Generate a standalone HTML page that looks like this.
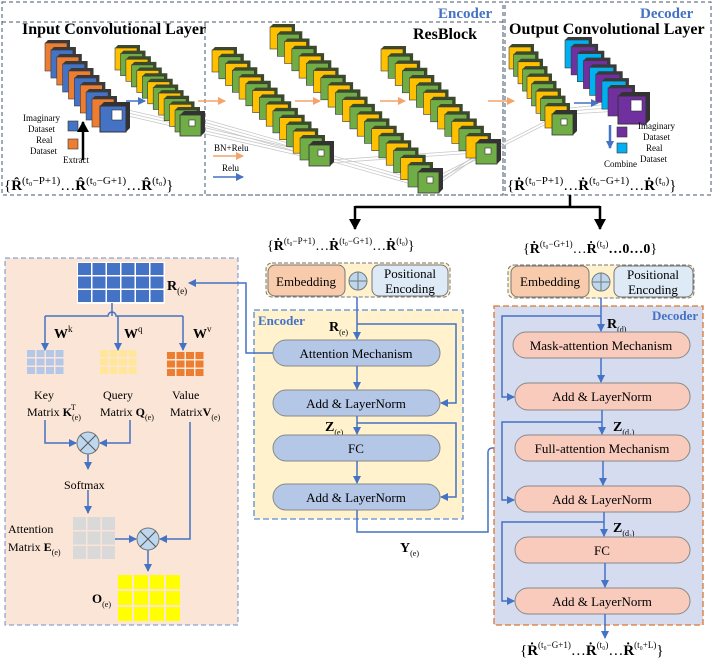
<!DOCTYPE html>
<html><head><meta charset="utf-8"><style>
html,body{margin:0;padding:0;background:#fff;}
svg{display:block;font-family:"Liberation Serif",serif;}
</style></head><body>
<svg width="713" height="668" viewBox="0 0 713 668" xmlns="http://www.w3.org/2000/svg" xmlns:xlink="http://www.w3.org/1999/xlink">
<defs>
<marker id="ab" markerWidth="8" markerHeight="8" refX="7" refY="4" orient="auto" markerUnits="userSpaceOnUse"><path d="M0,0 L8,4 L0,8 z" fill="#4472c4"/></marker>
<marker id="ak" markerWidth="12" markerHeight="12" refX="10" refY="6" orient="auto" markerUnits="userSpaceOnUse"><path d="M0,0 L11,6 L0,12 z" fill="#000"/></marker>
<marker id="ao" markerWidth="8" markerHeight="8" refX="7" refY="4" orient="auto" markerUnits="userSpaceOnUse"><path d="M0,0 L8,4 L0,8 z" fill="#f4a46a"/></marker>
<g id="cO"><path d="M0,0 l3,-3 h22 v28 l-3,3 z" fill="#3a3a3a"/><rect width="22" height="28" fill="#ed7d31" stroke="#3a3a3a" stroke-width="0.6"/></g>
<g id="cB"><path d="M0,0 l3,-3 h22 v28 l-3,3 z" fill="#3a3a3a"/><rect width="22" height="28" fill="#4472c4" stroke="#3a3a3a" stroke-width="0.6"/></g>
<g id="cY"><path d="M0,0 l3,-3 h22 v22 l-3,3 z" fill="#3a4a2a"/><rect width="22" height="22" fill="#ffc000" stroke="#3a3a3a" stroke-width="0.6"/></g>
<g id="cG"><path d="M0,0 l3,-3 h22 v22 l-3,3 z" fill="#3a4a2a"/><rect width="22" height="22" fill="#70ad47" stroke="#3a3a3a" stroke-width="0.6"/></g>
<g id="cC"><path d="M0,0 l3,-3 h24 v28 l-3,3 z" fill="#3a3a3a"/><rect width="24" height="28" fill="#00b0f0" stroke="#3a3a3a" stroke-width="0.6"/></g>
<g id="cP"><path d="M0,0 l3,-3 h24 v28 l-3,3 z" fill="#3a3a3a"/><rect width="24" height="28" fill="#7030a0" stroke="#3a3a3a" stroke-width="0.6"/></g>
<g id="fG"><path d="M0,0 l4,-4 h21 v21 l-4,4 z" fill="#333"/><rect width="21" height="21" fill="#70ad47" stroke="#333" stroke-width="0.8"/><rect x="9" y="5" width="6" height="6" fill="#fff" stroke="#333" stroke-width="0.6"/></g>
<pattern id="pR" x="78" y="263" width="14.5" height="13.5" patternUnits="userSpaceOnUse"><rect width="13" height="12" fill="#4472c4"/></pattern>
<pattern id="pK" x="27" y="350" width="9.5" height="8.5" patternUnits="userSpaceOnUse"><rect width="8" height="7" fill="#b4c7e7"/></pattern>
<pattern id="pQ" x="100" y="350" width="9.5" height="8.5" patternUnits="userSpaceOnUse"><rect width="8" height="7" fill="#ffe699"/></pattern>
<pattern id="pV" x="167" y="352" width="9.5" height="8.5" patternUnits="userSpaceOnUse"><rect width="8" height="7" fill="#ed7d31"/></pattern>
<pattern id="pE" x="73" y="517" width="14.5" height="14.5" patternUnits="userSpaceOnUse"><rect width="13" height="13" fill="#d9d9d9"/></pattern>
<pattern id="pO" x="118" y="575" width="16" height="16" patternUnits="userSpaceOnUse"><rect width="14" height="14" fill="#ffff00"/></pattern>
</defs>

<!-- TOP SECTION boxes -->
<rect x="2" y="2" width="501" height="193" fill="none" stroke="#44546a" stroke-dasharray="4,3"/>
<rect x="2" y="22" width="203" height="173" fill="none" stroke="#44546a" stroke-dasharray="4,3"/>
<rect x="205" y="22" width="298" height="173" fill="none" stroke="#44546a" stroke-dasharray="4,3"/>
<rect x="505" y="2" width="206" height="193" fill="none" stroke="#44546a" stroke-dasharray="4,3"/>
<text x="438" y="18" font-size="15" font-weight="bold" fill="#4472c4">Encoder</text>
<text x="640" y="18" font-size="15" font-weight="bold" fill="#4472c4">Decoder</text>
<text x="22" y="34" font-size="16" font-weight="bold">Input Convolutional Layer</text>
<text x="413" y="39" font-size="16" font-weight="bold">ResBlock</text>
<text x="509" y="34" font-size="16" font-weight="bold">Output Convolutional Layer</text>

<g stroke="#c8c8c8" stroke-width="0.8" fill="none">
<path d="M128,110 L310,152 M128,113 L310,155 M128,116 L310,158"/>
<path d="M200,118 L418,180 M200,121 L418,183 M200,124 L418,186"/>
<path d="M330,160 L476,150 M330,163 L476,153"/>
<path d="M440,180 L476,155 M440,183 L476,158"/>
<path d="M570,108 L620,103 M570,111 L620,107 M570,114 L620,111"/>
<path d="M440,175 L552,118 M440,178 L552,121"/>
</g>

<!-- stack 1 input -->
<use href="#cO" x="45" y="43"/><use href="#cB" x="50.9" y="50"/><use href="#cO" x="56.8" y="57"/><use href="#cB" x="62.6" y="64"/><use href="#cO" x="68.5" y="71"/><use href="#cB" x="74.4" y="78"/><use href="#cO" x="80.3" y="85"/><use href="#cB" x="86.1" y="92"/><use href="#cO" x="92" y="99"/>
<path d="M100,106 l4,-4 h26 v26 l-4,4 z" fill="#333"/><rect x="100" y="106" width="26" height="26" fill="#4472c4" stroke="#333"/><rect x="112" y="110" width="10" height="10" fill="#fff" stroke="#333" stroke-width="0.6"/>
<!-- stack 2 -->
<use href="#cY" x="115" y="48"/><use href="#cG" x="120.5" y="53.6"/><use href="#cY" x="125.9" y="59.3"/><use href="#cG" x="131.4" y="64.9"/><use href="#cY" x="136.8" y="70.5"/><use href="#cG" x="142.3" y="76.2"/><use href="#cY" x="147.7" y="81.8"/><use href="#cG" x="153.2" y="87.5"/><use href="#cY" x="158.6" y="93.1"/><use href="#cG" x="164.1" y="98.7"/><use href="#cY" x="169.5" y="104.4"/><use href="#cG" x="175" y="110"/>
<use href="#fG" x="180" y="115"/>
<!-- stack A -->
<use href="#cY" x="212" y="50"/><use href="#cG" x="218.8" y="56.8"/><use href="#cY" x="225.5" y="63.5"/><use href="#cG" x="232.3" y="70.3"/><use href="#cY" x="239.1" y="77.1"/><use href="#cG" x="245.8" y="83.8"/><use href="#cY" x="252.6" y="90.6"/><use href="#cG" x="259.4" y="97.4"/><use href="#cY" x="266.2" y="104.2"/><use href="#cG" x="272.9" y="110.9"/><use href="#cY" x="279.7" y="117.7"/><use href="#cG" x="286.5" y="124.5"/><use href="#cY" x="293.2" y="131.2"/><use href="#cG" x="300" y="138"/>
<use href="#fG" x="309" y="145"/>
<!-- stack B -->
<use href="#cY" x="270" y="27"/><use href="#cG" x="277.3" y="34.3"/><use href="#cY" x="284.5" y="41.5"/><use href="#cG" x="291.8" y="48.8"/><use href="#cY" x="299.1" y="56.1"/><use href="#cG" x="306.3" y="63.3"/><use href="#cY" x="313.6" y="70.6"/><use href="#cG" x="320.8" y="77.8"/><use href="#cY" x="328.1" y="85.1"/><use href="#cG" x="335.4" y="92.4"/><use href="#cY" x="342.6" y="99.6"/><use href="#cG" x="349.9" y="106.9"/><use href="#cY" x="357.2" y="114.2"/><use href="#cG" x="364.4" y="121.4"/><use href="#cY" x="371.7" y="128.7"/><use href="#cG" x="378.9" y="135.9"/><use href="#cY" x="386.2" y="143.2"/><use href="#cG" x="393.5" y="150.5"/><use href="#cY" x="400.7" y="157.7"/><use href="#cG" x="408" y="165"/>
<use href="#fG" x="418" y="172"/>
<!-- stack C -->
<use href="#cY" x="381" y="49"/><use href="#cG" x="388.1" y="56.3"/><use href="#cY" x="395.2" y="63.5"/><use href="#cG" x="402.3" y="70.8"/><use href="#cY" x="409.3" y="78"/><use href="#cG" x="416.4" y="85.3"/><use href="#cY" x="423.5" y="92.5"/><use href="#cG" x="430.6" y="99.8"/><use href="#cY" x="437.7" y="107"/><use href="#cG" x="444.8" y="114.3"/><use href="#cY" x="451.8" y="121.5"/><use href="#cG" x="458.9" y="128.8"/><use href="#cY" x="466" y="136"/>
<use href="#fG" x="476" y="143"/>
<!-- output stack -->
<use href="#cY" x="509" y="47"/><use href="#cG" x="513.5" y="54.4"/><use href="#cY" x="518" y="61.8"/><use href="#cG" x="522.5" y="69.1"/><use href="#cY" x="527" y="76.5"/><use href="#cG" x="531.5" y="83.9"/><use href="#cY" x="536" y="91.3"/><use href="#cG" x="540.5" y="98.6"/><use href="#cY" x="545" y="106"/>
<use href="#fG" x="552" y="114"/>
<use href="#cC" x="565" y="40"/><use href="#cP" x="571.1" y="46.9"/><use href="#cC" x="577.3" y="53.7"/><use href="#cP" x="583.4" y="60.6"/><use href="#cC" x="589.6" y="67.4"/><use href="#cP" x="595.7" y="74.3"/><use href="#cC" x="601.9" y="81.1"/><use href="#cP" x="608" y="88"/>
<path d="M618,96 l4,-4 h28 v28 l-4,4 z" fill="#333"/><rect x="618" y="96" width="28" height="28" fill="#7030a0" stroke="#333"/><rect x="631" y="100" width="11" height="11" fill="#fff" stroke="#333" stroke-width="0.6"/>

<!-- arrows top -->
<line x1="126" y1="101" x2="145" y2="101" stroke="#4472c4" stroke-width="1.5" marker-end="url(#ab)"/>
<line x1="198" y1="101" x2="225" y2="101" stroke="#f4a46a" stroke-width="1.5" marker-end="url(#ao)"/>
<line x1="295" y1="101" x2="320" y2="101" stroke="#f4a46a" stroke-width="1.5" marker-end="url(#ao)"/>
<line x1="380" y1="101" x2="405" y2="101" stroke="#f4a46a" stroke-width="1.5" marker-end="url(#ao)"/>
<line x1="488" y1="101" x2="514" y2="101" stroke="#f4a46a" stroke-width="1.5" marker-end="url(#ao)"/>
<line x1="574" y1="103" x2="598" y2="103" stroke="#4472c4" stroke-width="1.5" marker-end="url(#ab)"/>
<text x="214" y="151" font-size="9">BN+Relu</text>
<line x1="213" y1="156" x2="243" y2="156" stroke="#f4a46a" stroke-width="1.5" marker-end="url(#ao)"/>
<text x="222" y="171" font-size="9">Relu</text>
<line x1="213" y1="177" x2="243" y2="177" stroke="#4472c4" stroke-width="1.5" marker-end="url(#ab)"/>

<!-- input legend -->
<text x="23" y="121" font-size="9">Imaginary</text>
<text x="28" y="132" font-size="9">Dataset</text>
<text x="36" y="143" font-size="9">Real</text>
<text x="30" y="154" font-size="9">Dataset</text>
<rect x="68" y="121" width="10" height="10" fill="#4472c4" stroke="#333" stroke-width="0.6"/>
<rect x="68" y="139" width="10" height="10" fill="#ed7d31" stroke="#333" stroke-width="0.6"/>
<line x1="83" y1="160" x2="83" y2="122" stroke="#000" stroke-width="2.5" marker-end="url(#ak)"/>
<text x="63" y="163" font-size="9">Extract</text>
<text x="4" y="190" font-size="15">{<tspan font-weight="bold">R̂</tspan><tspan font-size="11" dy="-6">(t₀−P+1)</tspan><tspan dy="6">…</tspan><tspan font-weight="bold">R̂</tspan><tspan font-size="11" dy="-6">(t₀−G+1)</tspan><tspan dy="6">…</tspan><tspan font-weight="bold">R̂</tspan><tspan font-size="11" dy="-6">(t₀)</tspan><tspan dy="6">}</tspan></text>

<!-- output legend -->
<line x1="610" y1="125" x2="610" y2="148" stroke="#4472c4" stroke-width="2.5" marker-end="url(#ab)"/>
<rect x="617" y="127" width="10" height="10" fill="#7030a0" stroke="#333" stroke-width="0.6"/>
<rect x="617" y="143" width="10" height="10" fill="#00b0f0" stroke="#333" stroke-width="0.6"/>
<text x="638" y="129" font-size="9">Imaginary</text>
<text x="643" y="140" font-size="9">Dataset</text>
<text x="646" y="151" font-size="9">Real</text>
<text x="640" y="162" font-size="9">Dataset</text>
<text x="604" y="167" font-size="9">Combine</text>
<text x="507" y="190" font-size="15">{<tspan font-weight="bold">Ṙ</tspan><tspan font-size="11" dy="-6">(t₀−P+1)</tspan><tspan dy="6">…</tspan><tspan font-weight="bold">Ṙ</tspan><tspan font-size="11" dy="-6">(t₀−G+1)</tspan><tspan dy="6">…</tspan><tspan font-weight="bold">Ṙ</tspan><tspan font-size="11" dy="-6">(t₀)</tspan><tspan dy="6">}</tspan></text>

<!-- black arrows -->
<path d="M570,195 V207 M355,207 H600" stroke="#000" stroke-width="2.5" fill="none"/>
<line x1="355" y1="206" x2="355" y2="229" stroke="#000" stroke-width="2.5" marker-end="url(#ak)"/>
<line x1="600" y1="206" x2="600" y2="229" stroke="#000" stroke-width="2.5" marker-end="url(#ak)"/>

<!-- LEFT PANEL -->
<rect x="5" y="258" width="233" height="367" fill="#fbe5d6" stroke="#6f8fcf" stroke-dasharray="5,3"/>
<rect x="77" y="262" width="88" height="42" fill="#fff"/>
<rect x="78" y="263" width="86" height="39.5" fill="url(#pR)"/>
<text x="167" y="290" font-size="14" font-weight="bold">R<tspan font-size="9" font-weight="normal" dy="4">(e)</tspan></text>
<g stroke="#4472c4" stroke-width="1.5" fill="none">
<path d="M112,303 V316 M45,316 H108 A4,4 0 0 1 116,316 H183"/>
<line x1="45" y1="316" x2="45" y2="350" marker-end="url(#ab)"/>
<line x1="118" y1="316" x2="118" y2="350" marker-end="url(#ab)"/>
<line x1="183" y1="316" x2="183" y2="350" marker-end="url(#ab)"/>
<path d="M45,420 V443 H76" marker-end="url(#ab)"/>
<path d="M130,420 V443 H100" marker-end="url(#ab)"/>
<line x1="88" y1="454" x2="88" y2="469" marker-end="url(#ab)"/>
<line x1="88" y1="490" x2="88" y2="513" marker-end="url(#ab)"/>
<line x1="115" y1="539" x2="136" y2="539" marker-end="url(#ab)"/>
<path d="M190,422 V539 H160" marker-end="url(#ab)"/>
<line x1="148" y1="550" x2="148" y2="571" marker-end="url(#ab)"/>
</g>
<text x="54" y="338" font-size="14" font-weight="bold">W<tspan font-size="9" font-weight="normal" dy="-6">k</tspan></text>
<text x="124" y="338" font-size="14" font-weight="bold">W<tspan font-size="9" font-weight="normal" dy="-6">q</tspan></text>
<text x="193" y="338" font-size="14" font-weight="bold">W<tspan font-size="9" font-weight="normal" dy="-6">v</tspan></text>
<rect x="27" y="350" width="36.5" height="24" fill="url(#pK)"/>
<rect x="100" y="350" width="36.5" height="24" fill="url(#pQ)"/>
<rect x="167" y="352" width="36.5" height="24" fill="url(#pV)"/>
<rect x="73" y="517" width="42" height="42" fill="url(#pE)"/>
<rect x="118" y="575" width="62" height="46" fill="url(#pO)"/>
<text x="34" y="399" font-size="12">Key</text>
<text x="27" y="416" font-size="12">Matrix <tspan font-weight="bold">K</tspan><tspan font-size="8" dy="4">(e)</tspan><tspan font-size="8" dx="-10" dy="-10">T</tspan></text>
<text x="103" y="399" font-size="12">Query</text>
<text x="100" y="416" font-size="12">Matrix <tspan font-weight="bold">Q</tspan><tspan font-size="8" dy="4">(e)</tspan></text>
<text x="172" y="399" font-size="12">Value</text>
<text x="170" y="416" font-size="12">Matrix<tspan font-weight="bold">V</tspan><tspan font-size="8" dy="4">(e)</tspan></text>
<circle cx="88" cy="443" r="11" fill="#bdd7ee" stroke="#777"/>
<path d="M80,435 L96,451 M96,435 L80,451" stroke="#555"/>
<text x="64" y="489" font-size="12">Softmax</text>
<text x="8" y="533" font-size="12">Attention</text>
<text x="8" y="551" font-size="12">Matrix <tspan font-weight="bold">E</tspan><tspan font-size="8" dy="4">(e)</tspan></text>
<circle cx="148" cy="539" r="11" fill="#bdd7ee" stroke="#777"/>
<path d="M140,531 L156,547 M156,531 L140,547" stroke="#555"/>
<text x="92" y="603" font-size="13" font-weight="bold">O<tspan font-size="8" font-weight="normal" dy="4">(e)</tspan></text>

<!-- ENCODER -->
<text x="267" y="250" font-size="14">{<tspan font-weight="bold">Ṙ</tspan><tspan font-size="9" dy="-6">(t₀−P+1)</tspan><tspan dy="6">…</tspan><tspan font-weight="bold">Ṙ</tspan><tspan font-size="9" dy="-6">(t₀−G+1)</tspan><tspan dy="6">…</tspan><tspan font-weight="bold">Ṙ</tspan><tspan font-size="9" dy="-6">(t₀)</tspan><tspan dy="6">}</tspan></text>
<rect x="266" y="263" width="184" height="34" rx="6" fill="#fff2cc" stroke="#777" stroke-dasharray="4,2"/>
<rect x="268" y="265" width="77" height="31" rx="7" fill="#f8cbad" stroke="#777"/>
<text x="306" y="286" font-size="13" text-anchor="middle">Embedding</text>
<rect x="372" y="265" width="76" height="31" rx="7" fill="#deebf7" stroke="#777"/>
<text x="410" y="278" font-size="13" text-anchor="middle">Positional</text>
<text x="410" y="293" font-size="13" text-anchor="middle">Encoding</text>
<circle cx="358" cy="281" r="9" fill="#bdd7ee" stroke="#777"/>
<path d="M349,281 H367 M358,272 V290" stroke="#777"/>

<rect x="254" y="310" width="209" height="209" fill="#fff2cc" stroke="#5b8bd6" stroke-dasharray="6,3" stroke-width="1.3"/>
<text x="258" y="325" font-size="13" font-weight="bold" fill="#4472c4">Encoder</text>
<text x="329" y="331" font-size="14" font-weight="bold">R<tspan font-size="8" font-weight="normal" dy="4">(e)</tspan></text>
<text x="325" y="431" font-size="14" font-weight="bold">Z<tspan font-size="8" font-weight="normal" dy="4">(e)</tspan></text>
<g font-size="13" text-anchor="middle">
<rect x="273" y="340" width="167" height="26" rx="13" fill="#b4c7e7" stroke="#888"/><text x="356" y="358">Attention Mechanism</text>
<rect x="273" y="390" width="167" height="26" rx="13" fill="#b4c7e7" stroke="#888"/><text x="356" y="408">Add &amp; LayerNorm</text>
<rect x="273" y="435" width="167" height="26" rx="13" fill="#b4c7e7" stroke="#888"/><text x="356" y="453">FC</text>
<rect x="273" y="484" width="167" height="26" rx="13" fill="#b4c7e7" stroke="#888"/><text x="356" y="502">Add &amp; LayerNorm</text>
</g>
<g stroke="#4472c4" stroke-width="1.5" fill="none">
<line x1="357" y1="297" x2="357" y2="339" marker-end="url(#ab)"/>
<line x1="357" y1="366" x2="357" y2="389" marker-end="url(#ab)"/>
<line x1="357" y1="416" x2="357" y2="434" marker-end="url(#ab)"/>
<line x1="357" y1="461" x2="357" y2="483" marker-end="url(#ab)"/>
<path d="M357,324 H456 V403 H441" marker-end="url(#ab)"/>
<path d="M357,423 H456 V497 H441" marker-end="url(#ab)"/>
<path d="M357,510 V532 H488 V452 A4,4 0 0 1 492,448 H514" marker-end="url(#ab)"/>
<path d="M273,353 H246 V283 H189" marker-end="url(#ab)"/>
</g>
<text x="400" y="552" font-size="14" font-weight="bold">Y<tspan font-size="8" font-weight="normal" dy="4">(e)</tspan></text>

<!-- DECODER -->
<text x="523" y="253" font-size="14">{<tspan font-weight="bold">Ṙ</tspan><tspan font-size="9" dy="-6">(t₀−G+1)</tspan><tspan dy="6">…</tspan><tspan font-weight="bold">Ṙ</tspan><tspan font-size="9" dy="-6">(t₀)</tspan><tspan dy="6" font-weight="bold">…0…0</tspan><tspan>}</tspan></text>
<rect x="508" y="265" width="186" height="33" rx="6" fill="#fff2cc" stroke="#777" stroke-dasharray="4,2"/>
<rect x="511" y="266" width="78" height="31" rx="7" fill="#f8cbad" stroke="#777"/>
<text x="550" y="286" font-size="13" text-anchor="middle">Embedding</text>
<rect x="614" y="266" width="79" height="31" rx="7" fill="#deebf7" stroke="#777"/>
<text x="653" y="279" font-size="13" text-anchor="middle">Positional</text>
<text x="653" y="294" font-size="13" text-anchor="middle">Encoding</text>
<circle cx="601" cy="282" r="9" fill="#bdd7ee" stroke="#777"/>
<path d="M592,282 H610 M601,273 V291" stroke="#777"/>

<rect x="494" y="306" width="209" height="319" fill="#d6dcf0" stroke="#d9762e" stroke-dasharray="6,3" stroke-width="1.3"/>
<text x="652" y="320" font-size="13" font-weight="bold" fill="#4472c4">Decoder</text>
<text x="607" y="328" font-size="14" font-weight="bold">R<tspan font-size="8" font-weight="normal" dy="4">(d)</tspan></text>
<text x="613" y="431" font-size="14" font-weight="bold">Z<tspan font-size="8" font-weight="normal" dy="4">(d₁)</tspan></text>
<text x="613" y="532" font-size="14" font-weight="bold">Z<tspan font-size="8" font-weight="normal" dy="4">(d₂)</tspan></text>
<g font-size="13" text-anchor="middle">
<rect x="513" y="332" width="177" height="26" rx="13" fill="#f8cbbd" stroke="#888"/><text x="601" y="350">Mask-attention Mechanism</text>
<rect x="515" y="383" width="175" height="27" rx="13" fill="#f8cbbd" stroke="#888"/><text x="602" y="401">Add &amp; LayerNorm</text>
<rect x="515" y="435" width="175" height="26" rx="13" fill="#f8cbbd" stroke="#888"/><text x="602" y="453">Full-attention Mechanism</text>
<rect x="515" y="486" width="175" height="26" rx="13" fill="#f8cbbd" stroke="#888"/><text x="602" y="504">Add &amp; LayerNorm</text>
<rect x="515" y="537" width="175" height="26" rx="13" fill="#f8cbbd" stroke="#888"/><text x="602" y="555">FC</text>
<rect x="515" y="588" width="175" height="26" rx="13" fill="#f8cbbd" stroke="#888"/><text x="602" y="606">Add &amp; LayerNorm</text>
</g>
<g stroke="#4472c4" stroke-width="1.5" fill="none">
<line x1="601" y1="298" x2="601" y2="331" marker-end="url(#ab)"/>
<line x1="601" y1="358" x2="601" y2="382" marker-end="url(#ab)"/>
<line x1="602" y1="410" x2="602" y2="434" marker-end="url(#ab)"/>
<line x1="603" y1="461" x2="603" y2="485" marker-end="url(#ab)"/>
<line x1="604" y1="512" x2="604" y2="536" marker-end="url(#ab)"/>
<line x1="605" y1="563" x2="605" y2="587" marker-end="url(#ab)"/>
<line x1="605" y1="614" x2="605" y2="638" marker-end="url(#ab)"/>
<path d="M601,316 H502 V397 H514" marker-end="url(#ab)"/>
<path d="M602,422 H502 V500 H514" marker-end="url(#ab)"/>
<path d="M604,522 H502 V601 H514" marker-end="url(#ab)"/>
</g>
<text x="520" y="655" font-size="15">{<tspan font-weight="bold">Ṙ</tspan><tspan font-size="9" dy="-7">(t₀−G+1)</tspan><tspan dy="7">…</tspan><tspan font-weight="bold">Ṙ</tspan><tspan font-size="9" dy="-7">(t₀)</tspan><tspan dy="7">…</tspan><tspan font-weight="bold">Ṙ</tspan><tspan font-size="9" dy="-7">(t₀+L)</tspan><tspan dy="7">}</tspan></text>
</svg>
</body></html>
